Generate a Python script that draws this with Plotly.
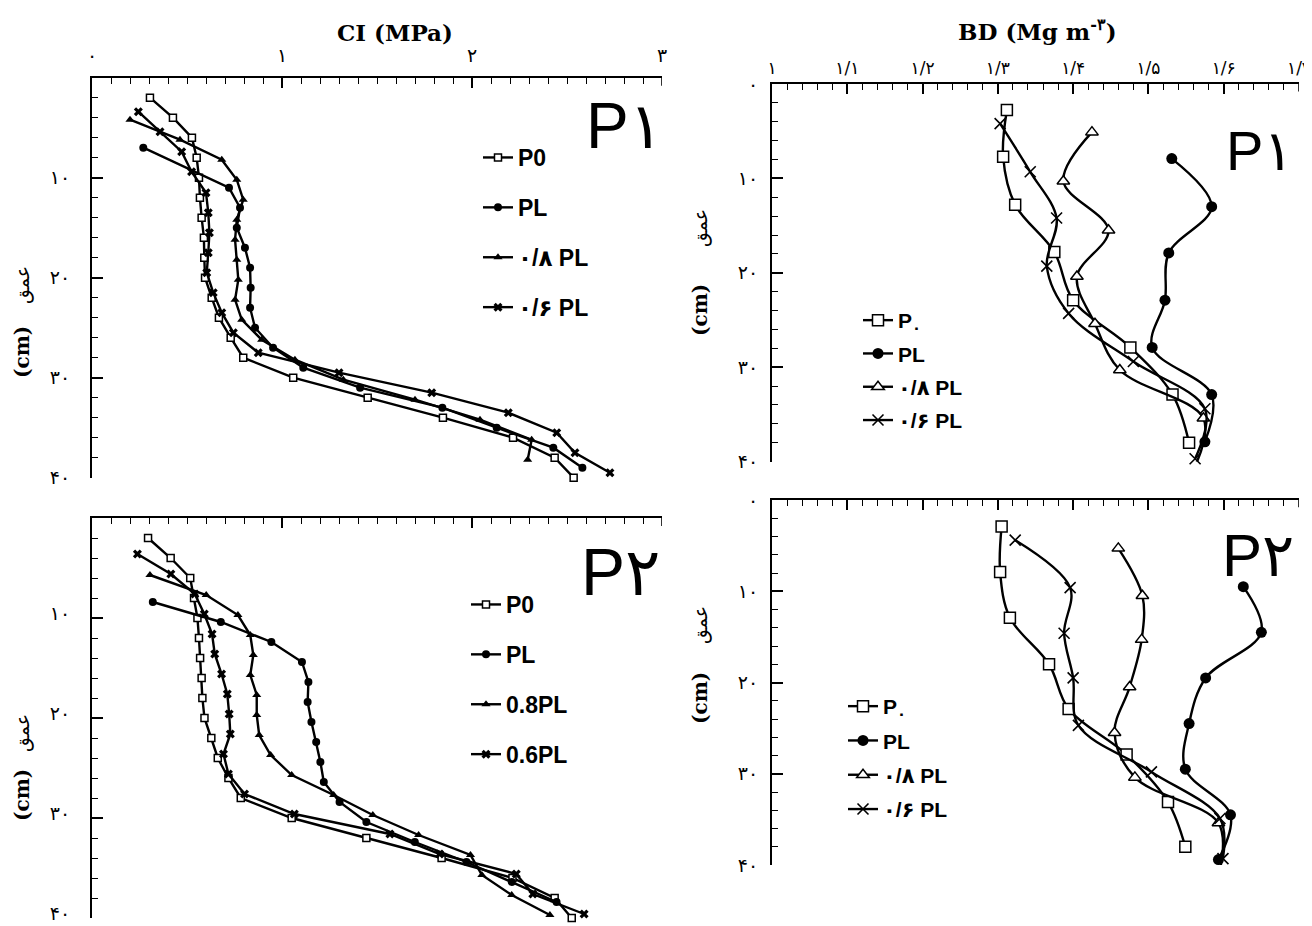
import plotly.graph_objects as go

# ---------------- DATA ----------------
# CI (MPa) vs depth (cm), panel P1
ci1_p0_depth = [2, 4, 6, 8, 10, 12, 14, 16, 18, 20, 22, 24, 26, 28, 30, 32, 34, 36, 38, 40]
ci1_p0 = [0.305, 0.426, 0.526, 0.551, 0.563, 0.568, 0.577, 0.589, 0.591, 0.595, 0.630, 0.668,
          0.730, 0.796, 1.059, 1.451, 1.847, 2.216, 2.435, 2.535]
ci1_pl_depth = [7, 11, 13, 15, 17, 19, 21, 23, 25, 27, 29, 31, 33, 35, 37, 39]
ci1_pl = [0.270, 0.721, 0.779, 0.762, 0.805, 0.832, 0.835, 0.832, 0.858, 0.953, 1.112, 1.411,
          1.844, 2.130, 2.428, 2.581]
ci1_p08_depth = [4.2, 6.2, 8.2, 10.2, 12.2, 14.2, 16.2, 18.2, 20.2, 22.2, 24.2, 26.2, 28.2,
                 30.2, 32.2, 34.2, 36.2, 38.2]
ci1_p08 = [0.200, 0.463, 0.683, 0.762, 0.796, 0.762, 0.753, 0.762, 0.770, 0.753, 0.788, 0.893,
           1.068, 1.323, 1.700, 2.042, 2.314, 2.293]
ci1_p06_depth = [3.4, 5.4, 7.4, 9.4, 11.5, 13.5, 15.5, 17.5, 19.5, 21.5, 23.5, 25.5, 27.5, 29.5,
                 31.5, 33.5, 35.5, 37.5, 39.5]
ci1_p06 = [0.244, 0.358, 0.472, 0.524, 0.600, 0.612, 0.618, 0.612, 0.604, 0.638, 0.683, 0.744,
           0.875, 1.300, 1.788, 2.191, 2.446, 2.542, 2.726]

# CI (MPa) vs depth (cm), panel P2
ci2_p0_depth = [2, 4, 6, 8, 10, 12, 14, 16, 18, 20, 22, 24, 26, 28, 30, 32, 34, 36, 38, 40]
ci2_p0 = [0.295, 0.414, 0.517, 0.537, 0.555, 0.563, 0.569, 0.577, 0.581, 0.592, 0.628, 0.662,
          0.718, 0.783, 1.051, 1.444, 1.840, 2.213, 2.435, 2.525]
ci2_pl_depth = [8.4, 10.4, 12.4, 14.4, 16.4, 18.4, 20.4, 22.4, 24.4, 26.4, 28.4, 30.4, 32.4,
                34.4, 36.4, 38.4]
ci2_pl = [0.320, 0.678, 0.944, 1.105, 1.139, 1.135, 1.155, 1.180, 1.202, 1.220, 1.303, 1.444,
          1.699, 1.971, 2.209, 2.445]
ci2_p08_depth = [5.7, 7.7, 9.7, 11.7, 13.7, 15.7, 17.7, 19.7, 21.7, 23.7, 25.7, 27.7, 29.7,
                 31.7, 33.7, 35.7, 37.7, 39.7]
ci2_p08 = [0.305, 0.601, 0.768, 0.833, 0.849, 0.833, 0.867, 0.867, 0.880, 0.940, 1.051, 1.272,
           1.478, 1.719, 1.992, 2.052, 2.209, 2.410]
ci2_p06_depth = [3.6, 5.6, 7.6, 9.6, 11.6, 13.6, 15.6, 17.6, 19.6, 21.6, 23.6, 25.6, 27.6, 29.6,
                 31.6, 33.6, 35.6, 37.6, 39.6]
ci2_p06 = [0.239, 0.415, 0.541, 0.591, 0.632, 0.646, 0.682, 0.712, 0.722, 0.728, 0.692, 0.718,
           0.803, 1.065, 1.568, 1.830, 2.233, 2.320, 2.590]

# BD (Mg m-3) vs depth (cm), panel P1
bd1_p0_depth = [2.75, 7.7, 12.8, 17.8, 22.9, 27.9, 32.9, 38.0]
bd1_p0 = [1.312, 1.307, 1.323, 1.375, 1.400, 1.476, 1.532, 1.554]
bd1_pl_depth = [7.9, 13.0, 17.9, 22.9, 27.9, 32.9, 37.9]
bd1_pl = [1.531, 1.584, 1.527, 1.522, 1.505, 1.584, 1.575]
bd1_p08_depth = [5.1, 10.3, 15.5, 20.4, 25.4, 30.3, 35.4, 40.5]
bd1_p08 = [1.425, 1.387, 1.447, 1.405, 1.429, 1.462, 1.573, 1.562]
bd1_p06_depth = [4.2, 9.3, 14.2, 19.3, 24.3, 29.4, 34.4, 39.7]
bd1_p06 = [1.303, 1.343, 1.378, 1.365, 1.394, 1.480, 1.575, 1.562]

# BD (Mg m-3) vs depth (cm), panel P2
bd2_p0_depth = [2.9, 7.9, 12.9, 18.0, 22.9, 27.9, 33.1, 38.0]
bd2_p0 = [1.305, 1.303, 1.316, 1.368, 1.394, 1.471, 1.526, 1.549]
bd2_pl_depth = [9.5, 14.5, 19.5, 24.5, 29.5, 34.5, 39.4]
bd2_pl = [1.626, 1.650, 1.576, 1.554, 1.549, 1.609, 1.593]
bd2_p08_depth = [5.3, 10.5, 15.3, 20.5, 25.5, 30.4, 35.4, 40.5]
bd2_p08 = [1.460, 1.492, 1.491, 1.475, 1.455, 1.482, 1.593, 1.595]
bd2_p06_depth = [4.4, 9.6, 14.6, 19.5, 24.7, 29.8, 34.9, 39.3]
bd2_p06 = [1.323, 1.396, 1.388, 1.400, 1.407, 1.504, 1.595, 1.599]

# labels
names_ci1 = ["P0", "PL", "۰/۸ PL", "۰/۶ PL"]
names_ci2 = ["P0", "PL", "0.8PL", "0.6PL"]
names_bd = ["P<sub>۰</sub>", "PL", "۰/۸ PL", "۰/۶ PL"]
ci_tickvals = [0, 1, 2, 3]
ci_ticktext = ["۰", "۱", "۲", "۳"]
bd_tickvals = [1.0, 1.1, 1.2, 1.3, 1.4, 1.5, 1.6, 1.7]
bd_ticktext = ["۱", "۱/۱", "۱/۲", "۱/۳", "۱/۴", "۱/۵", "۱/۶", "۱/۷"]
depth_tickvals = [10, 20, 30, 40]
depth_ticktext = ["۱۰", "۲۰", "۳۰", "۴۰"]
depth_tickvals_r = [0, 10, 20, 30, 40]
depth_ticktext_r = ["۰", "۱۰", "۲۰", "۳۰", "۴۰"]

# ---------------- STYLE ----------------
FONT_FA = "DejaVu Sans"
FONT_LEG = "Liberation Sans, DejaVu Sans"
BLACK = "black"

left_markers = [
    dict(symbol="square", size=7, color="white", line=dict(color=BLACK, width=1.5)),
    dict(symbol="circle", size=8, color=BLACK),
    dict(symbol="triangle-up", size=8, color=BLACK),
    dict(symbol="x", size=8, color=BLACK),
]
right_markers = [
    dict(symbol="square", size=11, color="white", line=dict(color=BLACK, width=1.5)),
    dict(symbol="circle", size=11, color=BLACK),
    dict(symbol="triangle-up", size=11, color="white", line=dict(color=BLACK, width=1.5)),
    dict(symbol="x-thin", size=11, color=BLACK, line=dict(color=BLACK, width=1.6)),
]

fig = go.Figure()

def add_panel(series, names, markers, xa, ya, legend, shape, lw):
    for i, ((xs, ds), nm, mk) in enumerate(zip(series, names, markers)):
        fig.add_trace(go.Scatter(
            x=xs, y=ds, name=nm, mode="lines+markers",
            line=dict(color=BLACK, width=lw, shape=shape),
            marker=mk, xaxis=xa, yaxis=ya, legend=legend,
            legendgroup=legend + str(i), cliponaxis=False,
        ))

add_panel([(ci1_p0, ci1_p0_depth), (ci1_pl, ci1_pl_depth), (ci1_p08, ci1_p08_depth),
           (ci1_p06, ci1_p06_depth)], names_ci1, left_markers, "x", "y", "legend", "linear", 2.4)
add_panel([(bd1_p0, bd1_p0_depth), (bd1_pl, bd1_pl_depth), (bd1_p08, bd1_p08_depth),
           (bd1_p06, bd1_p06_depth)], names_bd, right_markers, "x2", "y2", "legend2", "spline", 2.4)
add_panel([(ci2_p0, ci2_p0_depth), (ci2_pl, ci2_pl_depth), (ci2_p08, ci2_p08_depth),
           (ci2_p06, ci2_p06_depth)], names_ci2, left_markers, "x3", "y3", "legend3", "linear", 2.4)
add_panel([(bd2_p0, bd2_p0_depth), (bd2_pl, bd2_pl_depth), (bd2_p08, bd2_p08_depth),
           (bd2_p06, bd2_p06_depth)], names_bd, right_markers, "x4", "y4", "legend4", "spline", 2.4)

# the page adds an 8 px body margin; shift layout positions to compensate
OFF = 8
W, H = 1312, 926
def px(v): return (v - OFF) / W
def py(v): return 1 - (v - OFF) / H

tickfont = dict(family=FONT_FA, size=19, color=BLACK)
tickfont_bd = dict(family=FONT_FA, size=17, color=BLACK)

def xaxis(dom, rng, tv, tt, dminor, show, anchor, standoff, font):
    return dict(domain=dom, range=rng, side="top", anchor=anchor, showline=True, linewidth=2,
                linecolor=BLACK, ticks="inside", ticklen=10, tickwidth=1.6, tickcolor=BLACK,
                tickvals=tv, ticktext=tt, showticklabels=show, tickfont=font,
                ticklabelstandoff=standoff, ticklabeloverflow="allow",
                showgrid=False, zeroline=False, mirror=False, automargin=False,
                minor=dict(dtick=dminor, ticks="inside", ticklen=6, tickwidth=1.3,
                           tickcolor=BLACK, showgrid=False))

def yaxis(dom, tv, tt, standoff, anchor, shift=0):
    return dict(domain=dom, range=[40, 0], anchor=anchor, showline=True, linewidth=2,
                linecolor=BLACK, ticks="inside", ticklen=11, tickwidth=1.6, tickcolor=BLACK,
                tickvals=tv, ticktext=tt, tickfont=tickfont, ticklabelstandoff=standoff,
                ticklabelshift=shift, ticklabeloverflow="allow",
                showgrid=False, zeroline=False, mirror=False, automargin=False,
                minor=dict(dtick=2, ticks="inside", ticklen=6, tickwidth=1.3,
                           tickcolor=BLACK, showgrid=False))

xl = [px(92), px(662)]
xr = [px(772), px(1299)]
fig.update_layout(
    width=W, height=H, margin=dict(l=0, r=0, t=0, b=0, pad=0, autoexpand=False), autosize=False,
    paper_bgcolor="white", plot_bgcolor="white", showlegend=True,
    xaxis=xaxis(xl, [0, 3], ci_tickvals, ci_ticktext, 0.1, True, "y", 6, tickfont),
    yaxis=yaxis([py(477.7), py(77.7)], depth_tickvals, depth_ticktext, 16, "x"),
    xaxis2=xaxis(xr, [1.0, 1.7], bd_tickvals, bd_ticktext, 0.02, True, "y2", 1, tickfont_bd),
    yaxis2=yaxis([py(461.6), py(84)], depth_tickvals_r, depth_ticktext_r, 8, "x2"),
    xaxis3=xaxis(xl, [0, 3], ci_tickvals, ci_ticktext, 0.1, False, "y3", 6, tickfont),
    yaxis3=yaxis([py(918), py(518)], depth_tickvals, depth_ticktext, 16, "x3", shift=5),
    xaxis4=xaxis(xr, [1.0, 1.7], bd_tickvals, bd_ticktext, 0.02, False, "y4", 1, tickfont_bd),
    yaxis4=yaxis([py(865), py(500)], depth_tickvals_r, depth_ticktext_r, 8, "x4"),
)

# short end ticks crossing the top axes at their right ends
end_ticks = [("x", "y", 3), ("x3", "y3", 3), ("x2", "y2", 1.7), ("x4", "y4", 1.7)]
fig.update_layout(shapes=[
    dict(type="line", xref=xa, yref=ya, x0=xv, x1=xv, y0=-0.8, y1=0.8,
         line=dict(color=BLACK, width=1.6)) for xa, ya, xv in end_ticks
])

legfont_l = dict(family=FONT_LEG, size=23, color=BLACK, weight="bold")
legfont_r = dict(family=FONT_LEG, size=21, color=BLACK, weight="bold")
common = dict(bgcolor="rgba(0,0,0,0)", traceorder="grouped", xanchor="left", yanchor="top",
              itemwidth=30)
fig.update_layout(
    legend=dict(x=px(478), y=py(136), font=legfont_l, tracegroupgap=17, **common),
    legend3=dict(x=px(466), y=py(583), font=legfont_l, tracegroupgap=17, **common),
    legend2=dict(x=px(858), y=py(300), font=legfont_r, tracegroupgap=3, **common),
    legend4=dict(x=px(843), y=py(686), font=legfont_r, tracegroupgap=4, **common),
)

ann = []
def add_text(text, xc, yc, font, angle=0):
    ann.append(dict(text=text, x=px(xc), y=py(yc), xref="paper", yref="paper",
                    xanchor="center", yanchor="middle", showarrow=False,
                    textangle=angle, font=font))

# axis titles
add_text("<b>CI (MPa)</b>", 395, 32, dict(family="DejaVu Serif", size=23, color=BLACK))
add_text("<b>BD (Mg m<sup>-۳</sup>)</b>", 1037, 30,
         dict(family="DejaVu Serif", size=23, color=BLACK))
# y titles
for (xc, ycm, yfa) in [(22, 352, 285), (22, 795, 733), (700, 310, 228), (700, 698, 625)]:
    add_text("<b>(cm)</b>", xc, ycm, dict(family="DejaVu Serif", size=20, color=BLACK), -90)
    add_text("عمق", xc, yfa, dict(family=FONT_FA, size=19, color=BLACK), -90)
# panel labels
for (txt, xc, yc, sz) in [("P۱", 624, 126, 64), ("P۱", 1259, 150, 56),
                          ("P۲", 620, 572, 66), ("P۲", 1258, 555, 60)]:
    add_text(txt, xc, yc, dict(family=FONT_LEG, size=sz, color=BLACK))
fig.update_layout(annotations=ann)

fig.write_html("out.html")
